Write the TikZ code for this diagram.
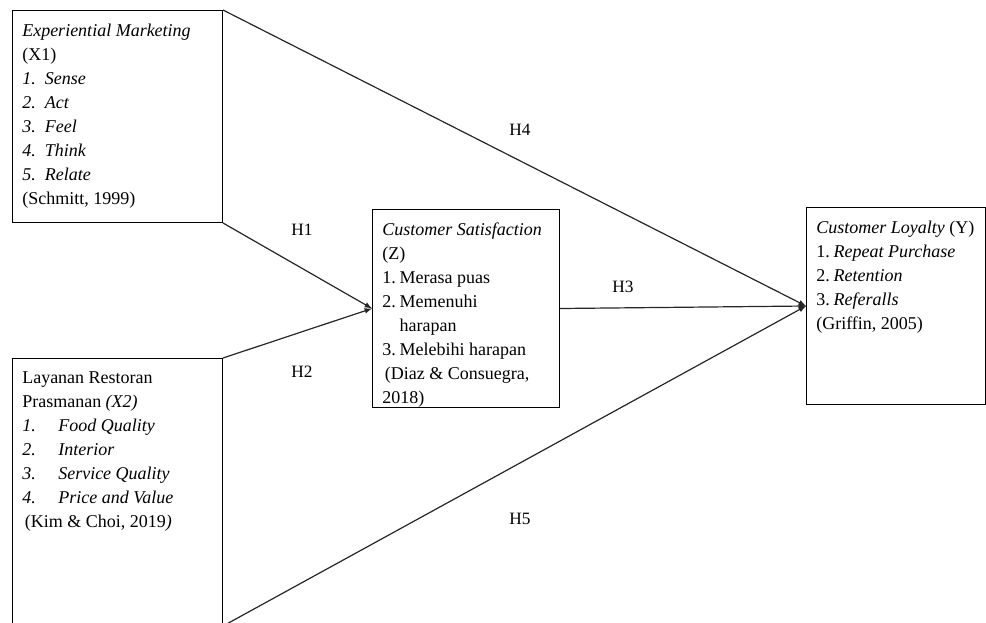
\documentclass[tikz,border=0pt]{standalone}
\usepackage{fontspec}
\setmainfont{Liberation Serif}
\newcommand{\numitem}[3]{\makebox[#1][l]{#2}#3}

\begin{document}
\begin{tikzpicture} [x=0.75pt, y=-0.75pt,
                    box_style/.style={draw=black, line width=0.75pt, anchor=north west, inner sep=0pt},
                    text_style/.style={anchor=north west, align=left, inner xsep=7.5pt, inner ysep=10pt,
                                       font=\fontsize{13.5}{18}\selectfont},
                    arrow_style/.style={draw=black!85, line width=0.9pt, -latex},
                    label_style/.style={font=\fontsize{13}{15}\selectfont}]
                    \useasboundingbox (0,0) rectangle (986,622);
                    % boxes
                    \node[box_style, minimum width=157.5pt, minimum height=159pt] (xone) at (12,10) {};
                    \node[box_style, minimum width=157.5pt, minimum height=200.25pt] (xtwo) at (12,358) {};
                    \node[box_style, minimum width=140.25pt, minimum height=148.5pt] (z) at (372,209) {};
                    \node[box_style, minimum width=134.25pt, minimum height=147.75pt] (y) at (806,207) {};
                    % texts
                    \node[text_style] (xonetext) at (xone.north west) {\textit{Experiential Marketing}\\(X1)\\
                        \textit{\numitem{17pt}{1.}{Sense}}\\\textit{\numitem{17pt}{2.}{Act}}\\
                        \textit{\numitem{17pt}{3.}{Feel}}\\\textit{\numitem{17pt}{4.}{Think}}\\
                        \textit{\numitem{17pt}{5.}{Relate}}\\(Schmitt, 1999)};
                    \node[text_style] (xtwotext) at (xtwo.north west) {Layanan Restoran\\Prasmanan \textit{(X2)}\\
                        \textit{\numitem{27pt}{1.}{Food Quality}}\\\textit{\numitem{27pt}{2.}{Interior}}\\
                        \textit{\numitem{27pt}{3.}{Service Quality}}\\\textit{\numitem{27pt}{4.}{Price and Value}}\\
                        \hspace{2pt}(Kim \& Choi, 2019\textit{)}};
                    \node[text_style] (ztext) at (z.north west) {\textit{Customer Satisfaction}\\(Z)\\
                        \numitem{13pt}{1.}{Merasa puas}\\\numitem{13pt}{2.}{Memenuhi}\\
                        \numitem{13pt}{}{harapan}\\\numitem{13pt}{3.}{Melebihi harapan}\\
                        \hspace{2pt}(Diaz \& Consuegra,\\2018)};
                    \node[text_style] (ytext) at (y.north west) {\textit{Customer Loyalty} (Y)\\
                        \numitem{13pt}{1.}{\textit{Repeat Purchase}}\\\numitem{13pt}{2.}{\textit{Retention}}\\
                        \numitem{13pt}{3.}{\textit{Referalls}}\\(Griffin, 2005)};
                    % paths
                    \draw (xone.south east) edge[arrow_style] (z.west);
                    \draw (xtwo.north east) edge[arrow_style] (z.west);
                    \draw (z.east) edge[arrow_style] (y.west);
                    \draw (xone.north east) edge[arrow_style] (y.west);
                    \draw (xtwo.south east) edge[arrow_style] (y.west);
                    % hypotheses
                    \node[label_style] (hone) at (302,230) {H1};
                    \node[label_style] (htwo) at (302,372) {H2};
                    \node[label_style] (hthree) at (623,287) {H3};
                    \node[label_style] (hfour) at (520,130) {H4};
                    \node[label_style] (hfive) at (520,519) {H5};
                \end{tikzpicture}
\end{document}
